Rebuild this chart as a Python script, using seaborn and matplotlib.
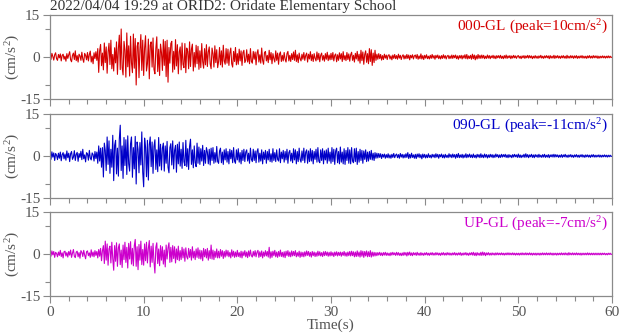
import numpy as np
import pandas as pd
import matplotlib
matplotlib.use("Agg")
import matplotlib.pyplot as plt
import seaborn as sns

# ---------------- data (acceleration, cm/s^2, one row = 1 s, sampled every 0.1 s) ----------------
title = "2022/04/04 19:29 at ORID2: Oridate Elementary School"
channel_labels = ["000-GL (peak=10cm/s$^2$)", "090-GL (peak=-11cm/s$^2$)", "UP-GL (peak=-7cm/s$^2$)"]
x_ticks = [0, 10, 20, 30, 40, 50, 60]
y_ticks = [-15, 0, 15]

ns_acc = [
    0.4, -0.9, 1.3, 0.2, -1.1, 0.8, 1.5, -0.6, -1.2, 0.9,
    -0.3, 1.1, -1.4, 0.6, 1.0, -0.8, 0.3, -1.5, 1.2, -0.5,
    0.8, 1.9, -1.0, -1.7, 0.6, 1.4, -0.9, 2.2, -1.3, 0.5,
    -1.8, 1.0, 0.4, -1.2, 1.7, -0.7, -1.9, 1.3, 0.6, -1.0,
    1.6, -1.4, 0.9, 2.1, -1.8, 0.3, -2.4, 1.5, -0.6, 1.9,
    -1.2, 3.0, -5.5, 2.2, 4.5, -3.1, 1.4, -4.6, 5.0, -2.0,
    3.6, -5.8, 1.8, 4.9, -2.7, 6.0, -4.2, 0.9, -5.0, 3.3,
    -2.1, 5.4, -6.2, 3.0, 7.8, -4.5, 10.0, -3.8, -6.4, 5.6,
    2.4, -7.2, 8.6, -3.5, 4.0, -6.8, 7.4, -2.2, -5.6, 8.2,
    -4.0, 6.6, -10.0, 3.8, 5.2, -7.4, 2.6, 8.0, -4.8, 6.0,
    -6.6, 3.2, 7.6, -5.0, -2.4, 6.4, -7.8, 4.2, 5.4, -3.6,
    6.8, -4.4, -6.0, 3.0, 7.2, -5.2, 2.8, -6.6, 4.6, 1.6,
    -4.8, 6.2, -3.0, 5.6, -7.0, 6.0, -9.0, 3.4, -2.2, 4.8,
    5.6, -5.4, 2.0, -4.4, 6.2, -3.2, 4.4, -6.0, 1.8, 3.6,
    -4.6, 5.0, -2.6, -3.8, 4.8, -5.6, 3.2, 2.0, -4.2, 5.4,
    -3.4, 2.8, 4.6, -5.0, 1.6, -3.6, 4.2, -2.4, 3.8, -4.4,
    2.2, -3.8, 4.8, -1.6, -4.0, 3.0, -2.8, 4.4, -3.4, 1.8,
    3.6, -2.4, -4.2, 3.2, 1.2, -3.6, 4.0, -2.0, 2.6, -3.8,
    -1.6, 3.4, -2.8, 2.2, -3.6, 4.2, -1.4, -2.6, 3.0, -2.2,
    2.8, -3.0, 1.4, 3.2, -2.4, -3.6, 2.0, -1.6, 3.4, -2.8,
    1.2, -2.6, 2.8, -1.4, 2.2, -3.0, 1.6, 2.4, -2.0, -1.2,
    2.6, -1.8, 1.0, -2.4, 3.0, -1.6, -2.2, 2.0, -0.8, 1.8,
    -2.8, 1.4, 2.6, -1.8, 0.8, -2.2, 3.2, -1.2, -2.6, 1.6,
    2.0, -1.4, 0.6, -2.0, 2.4, -1.0, 1.6, -2.4, 1.2, -0.6,
    -1.8, 2.2, -1.2, 1.4, -2.6, 1.0, 1.8, -1.6, 0.6, -1.4,
    1.6, -0.8, -1.8, 1.2, 2.0, -1.4, 0.6, -1.6, 1.2, -0.9,
    1.8, -1.2, 2.4, -1.6, 0.8, -2.0, 1.4, -0.6, -1.4, 1.0,
    -0.8, 1.6, -1.2, 0.6, 1.4, -1.8, 1.0, -0.7, 1.9, -1.3,
    0.9, -1.6, 1.2, -0.5, -1.4, 1.8, -1.0, 1.3, -1.7, 0.6,
    1.4, -1.1, 0.5, -1.5, 1.2, -0.8, 1.7, -1.3, 0.7, -1.0,
    1.3, -0.9, 1.6, -1.4, 0.6, 1.1, -1.7, 0.8, -1.2, 1.5,
    -0.7, 1.2, -1.6, 1.9, -1.0, 0.5, -1.3, 1.6, -0.9, 1.1,
    -1.5, 0.8, 1.7, -1.2, 0.6, -1.8, 1.3, -0.7, 2.0, -1.4,
    1.0, -2.2, 2.4, -1.3, 1.8, -2.6, 0.9, 2.2, -1.9, 1.2,
    -2.4, 3.0, -1.6, 2.6, -3.0, 1.4, -2.0, 2.4, -1.2, 1.0,
    -0.8, 1.2, -0.6, 0.9, -1.1, 0.5, -0.9, 1.0, -0.4, 0.7,
    -0.9, 0.6, 0.8, -0.7, 0.4, -1.0, 0.7, -0.5, 0.9, -0.6,
    0.5, -0.8, 1.0, -0.4, 0.6, -0.9, 0.3, 0.8, -0.7, 0.5,
    -0.6, 0.9, -0.5, 0.7, -1.0, 0.6, -0.3, 0.8, -0.7, 0.4,
    0.7, -0.5, 0.9, -0.8, 0.4, -0.6, 1.1, -0.7, 0.5, -0.9,
    0.6, -0.4, 0.8, -0.6, 0.3, -0.7, 0.6, -0.5, 0.9, -0.4,
    0.5, -0.8, 0.6, -0.3, 0.7, -0.6, 0.4, -0.7, 0.5, -0.5,
    0.8, -0.4, 0.5, -0.7, 0.3, 0.6, -0.6, 0.4, -0.5, 0.7,
    -0.5, 0.6, -0.3, 0.7, -0.6, 0.4, -0.8, 0.5, -0.4, 0.6,
    -0.7, 0.5, -0.4, 0.8, -0.6, 0.9, -0.7, 0.4, -0.5, 0.6,
    -0.8, 1.0, -0.6, 0.7, -1.0, 0.5, -0.7, 0.9, -0.5, 0.6,
    -0.5, 0.7, -0.4, 0.6, -0.6, 0.3, -0.5, 0.7, -0.4, 0.5,
    -0.6, 0.4, -0.3, 0.6, -0.5, 0.4, -0.6, 0.5, -0.3, 0.5,
    -0.4, 0.6, -0.5, 0.3, -0.6, 0.5, -0.4, 0.7, -0.5, 0.4,
    -0.3, 0.5, -0.6, 0.4, -0.4, 0.6, -0.3, 0.4, -0.5, 0.3,
    0.5, -0.4, 0.3, -0.6, 0.4, -0.3, 0.5, -0.5, 0.4, -0.3,
    0.6, -0.4, 0.5, -0.3, 0.4, -0.6, 0.3, -0.4, 0.5, -0.4,
    0.3, -0.5, 0.4, -0.3, 0.6, -0.4, 0.3, -0.5, 0.4, -0.3,
    0.5, -0.3, 0.4, -0.6, 0.5, -0.4, 0.3, -0.4, 0.6, -0.5,
    0.4, -0.3, 0.5, -0.4, 0.3, -0.5, 0.4, -0.3, 0.5, -0.4,
    0.3, -0.5, 0.6, -0.4, 0.3, -0.4, 0.5, -0.3, 0.4, -0.5,
    0.4, -0.3, 0.5, -0.5, 0.3, -0.4, 0.4, -0.3, 0.5, -0.4,
    0.3, -0.4, 0.3, -0.5, 0.4, -0.3, 0.5, -0.4, 0.3, -0.4,
    0.5, -0.3, 0.4, -0.3, 0.4, -0.5, 0.3, -0.4, 0.3, -0.3,
    0.4, -0.3, 0.3, -0.4, 0.3, -0.3, 0.4, -0.3, 0.3, -0.2,
    0.0,
]

ew_acc = [
    0.6, -1.2, 1.5, -0.4, 1.1, -1.6, 0.9, 0.3, -1.3, 1.0,
    -0.8, 1.4, -1.7, 0.5, 1.2, -1.0, 0.7, -1.5, 1.8, -0.6,
    1.0, -2.0, 0.8, 1.6, -1.2, -0.4, 1.9, -1.6, 0.6, 1.3,
    -1.9, 0.9, -0.5, 1.7, -1.3, 2.4, -1.0, 0.4, -2.1, 1.2,
    0.8, -1.5, 2.0, -0.7, -1.4, 1.1, 0.5, -1.8, 1.6, -0.9,
    1.4, -2.6, 3.6, -1.8, 2.8, -4.0, 3.0, -7.5, 4.6, 2.0,
    -5.2, 6.8, -3.0, 5.4, -6.2, 2.4, -4.0, 7.4, -8.8, 3.8,
    5.6, -6.4, 2.8, -7.2, 6.0, 11.0, -5.2, 3.6, -8.0, 6.6,
    -3.4, 5.8, -6.6, 7.2, -2.8, -5.4, 4.4, 6.8, -7.6, 3.0,
    -4.6, 7.0, -10.0, 5.0, 2.4, -6.0, 4.8, -3.2, 8.6, -5.8,
    -11.0, 6.4, 3.2, -7.4, 5.6, -8.6, 4.0, 6.8, -3.8, 5.0,
    -6.2, 3.4, 5.8, -4.8, 2.2, -5.6, 6.6, -3.6, 4.2, -5.0,
    2.8, 4.6, -5.4, 3.6, -2.6, 5.2, -4.0, -6.0, 3.0, 4.4,
    -3.2, 5.4, -4.6, 2.0, 3.8, -5.8, 4.2, -2.8, 5.0, -3.6,
    2.4, -4.4, 4.8, -2.0, -3.4, 5.6, -3.8, 2.6, -4.8, 3.4,
    6.0, -3.0, 2.2, -4.2, 3.6, -2.4, -3.8, 4.6, -2.6, 3.2,
    -3.0, 2.6, -1.8, 3.8, -3.4, 2.0, -2.6, 3.0, 1.4, -2.8,
    2.4, -3.2, 2.8, -1.6, 3.0, -2.6, 1.2, -2.2, 3.4, -2.0,
    -2.6, 1.8, 2.8, -2.4, 1.4, -3.0, 2.2, -1.4, 2.6, -2.2,
    1.6, -2.8, 2.4, -1.0, 2.0, -2.4, 3.0, -1.8, -2.6, 2.2,
    -1.4, 2.6, -2.2, 1.2, -2.8, 2.0, -1.6, 2.4, -2.0, 1.4,
    2.2, -1.8, 1.0, -2.6, 2.8, -1.2, -2.0, 2.4, -1.6, 1.8,
    -2.4, 1.6, 2.6, -2.2, 1.0, -1.8, 2.2, -2.8, 1.4, -1.2,
    2.0, -2.6, 1.6, -1.4, 2.4, -2.0, 0.8, -2.2, 2.6, -1.6,
    1.2, -2.0, 2.2, -1.2, -1.8, 2.6, -2.4, 1.4, -1.0, 2.0,
    -2.2, 1.6, -1.4, 2.4, -2.6, 1.2, 2.0, -1.8, 1.0, -2.4,
    2.6, -1.4, 2.2, -2.8, 1.6, -2.0, 2.8, -1.2, -2.2, 1.8,
    -1.6, 2.8, -2.4, 1.4, 2.2, -2.6, 1.8, -2.0, 2.6, -1.8,
    2.0, -2.8, 1.6, -1.2, 2.4, -2.2, 3.0, -1.8, -2.4, 2.2,
    -1.6, 2.6, -2.8, 1.8, -1.4, 2.2, -2.6, 2.8, -1.8, 1.4,
    -2.6, 3.0, -2.0, 2.4, -3.0, 1.8, 2.8, -2.4, 1.6, -2.8,
    3.2, -2.2, 1.4, -2.8, 2.6, -3.0, 2.0, -1.6, 3.0, -2.6,
    2.2, -2.8, 3.0, -1.8, -2.4, 2.6, -2.0, 2.8, -3.0, 1.6,
    -2.2, 2.4, -1.6, 2.0, -2.6, 1.8, -1.2, 2.2, -2.0, 1.4,
    -1.8, 1.6, -1.2, 2.0, -1.4, 1.0, -1.6, 1.2, -0.8, 1.0,
    -0.7, 0.9, -0.5, 0.8, -0.9, 0.6, -0.4, 0.7, -0.8, 0.5,
    -0.6, 0.8, -0.7, 0.4, -0.8, 0.6, -0.5, 0.9, -0.6, 0.3,
    0.7, -0.6, 0.5, -0.8, 0.9, -0.4, 0.6, -0.7, 0.5, -0.6,
    0.8, -0.5, 1.2, -0.9, 0.6, -0.7, 1.0, -0.5, 0.4, -0.8,
    0.6, -0.9, 0.7, -0.4, 0.8, -0.6, 0.5, -1.0, 0.7, -0.5,
    0.6, -0.7, 0.4, -0.6, 0.8, -0.5, 0.3, -0.7, 0.6, -0.4,
    0.5, -0.6, 0.8, -0.4, 0.6, -0.8, 0.5, -0.3, 0.7, -0.6,
    0.4, -0.7, 0.6, -0.5, 0.3, -0.6, 0.8, -0.4, 0.5, -0.6,
    0.7, -0.4, 0.5, -0.8, 0.6, -0.5, 0.9, -0.6, 0.4, -0.5,
    0.6, -0.7, 0.4, -0.5, 0.8, -0.6, 0.5, -0.4, 0.7, -0.5,
    0.4, -0.6, 0.7, -0.5, 0.3, -0.7, 0.6, -0.4, 0.5, -0.6,
    0.8, -0.5, 0.4, -0.6, 0.7, -0.4, 0.5, -0.7, 0.4, -0.5,
    0.6, -0.4, 0.5, -0.6, 0.4, -0.5, 0.7, -0.3, 0.5, -0.6,
    0.4, -0.5, 0.6, -0.4, 0.5, -0.3, 0.6, -0.5, 0.4, -0.6,
    0.5, -0.4, 0.3, -0.6, 0.5, -0.4, 0.6, -0.3, 0.4, -0.5,
    0.7, -0.5, 0.4, -0.6, 0.3, -0.4, 0.6, -0.5, 0.8, -0.4,
    0.5, -0.6, 0.4, -0.3, 0.6, -0.5, 0.4, -0.6, 0.5, -0.3,
    0.4, -0.5, 0.6, -0.4, 0.3, -0.5, 0.5, -0.4, 0.6, -0.5,
    0.3, -0.4, 0.5, -0.6, 0.4, -0.3, 0.5, -0.4, 0.6, -0.4,
    0.5, -0.3, 0.4, -0.5, 0.3, -0.4, 0.5, -0.5, 0.4, -0.3,
    0.6, -0.4, 0.3, -0.5, 0.4, -0.3, 0.5, -0.4, 0.3, -0.5,
    0.4, -0.3, 0.5, -0.4, 0.3, -0.5, 0.4, -0.3, 0.5, -0.4,
    0.3, -0.5, 0.4, -0.3, 0.4, -0.4, 0.3, -0.5, 0.4, -0.3,
    0.5, -0.4, 0.3, -0.4, 0.3, -0.3, 0.4, -0.4, 0.3, -0.4,
    0.3, -0.3, 0.4, -0.3, 0.3, -0.4, 0.3, -0.3, 0.3, -0.2,
    0.0,
]

ud_acc = [
    0.4, -0.8, 1.1, -0.3, 0.9, -1.2, 0.6, 0.2, -1.0, 0.7,
    -0.5, 1.3, -0.9, 0.4, -1.4, 0.8, 1.0, -0.7, 0.5, -1.1,
    0.9, -0.4, 1.4, -1.2, 0.3, 1.6, -0.8, -1.3, 0.7, 1.0,
    -1.0, 0.5, -1.5, 1.2, 0.6, -0.9, 1.3, -0.4, -1.7, 0.8,
    1.1, -0.6, 0.4, -1.2, 1.5, -0.8, 0.7, -1.0, 1.2, -0.5,
    0.9, -1.4, 1.6, -0.8, 2.0, -2.4, 1.2, 3.0, -3.4, 4.6,
    -2.2, 3.6, -4.0, 1.8, 2.8, -3.2, 4.2, -1.6, -5.8, 3.0,
    -2.6, 4.0, -4.4, 2.2, 3.6, -3.8, 1.4, -4.8, 3.2, -2.0,
    4.2, -3.0, 2.4, -5.0, 3.8, -1.8, 4.4, -3.6, 2.0, -4.2,
    3.0, 5.2, -4.4, 2.6, -5.6, 3.4, -2.2, 4.6, -3.8, 1.6,
    -4.0, 3.6, -2.4, 4.2, -3.2, 2.0, 4.8, -4.6, 2.8, -3.0,
    3.8, -2.6, -6.8, 2.4, 4.0, -3.4, 1.8, -4.2, 3.0, -2.2,
    2.6, -3.6, 1.4, -4.6, 3.2, -1.8, 2.2, 4.0, -3.0, 2.4,
    -2.8, 3.0, -1.6, 2.6, -3.2, 1.8, -2.0, 2.8, -2.4, 1.2,
    -2.0, 2.4, -1.4, 1.8, -2.6, 2.2, -1.0, -1.8, 2.0, -1.2,
    1.6, -2.2, 2.6, -1.4, 1.0, -2.0, 1.8, -1.2, 2.2, -1.6,
    1.4, -1.8, 1.2, -2.4, 2.0, -1.0, 1.6, -1.4, 2.0, -2.2,
    1.2, -1.6, 3.2, -1.8, 1.4, -2.0, 1.0, -1.2, 1.8, -1.4,
    1.0, -1.4, 1.6, -0.8, 1.2, -1.6, 0.9, -1.1, 1.4, -0.7,
    1.2, -1.0, 0.6, -1.4, 1.5, -0.8, 1.0, -1.2, 0.7, -1.0,
    1.3, -0.9, 0.5, -1.2, 1.0, -1.4, 0.8, -0.6, 1.2, -1.0,
    0.7, -1.3, 1.1, -0.8, 1.4, -0.6, -1.1, 0.9, -0.7, 1.2,
    -1.0, 0.6, 1.3, -1.2, 0.8, -0.9, 1.1, -1.4, 0.7, -0.8,
    1.2, -0.7, 0.9, -1.1, 2.4, -1.5, 0.8, -1.2, 1.0, -0.6,
    1.3, -1.0, 0.7, -1.2, 0.9, -0.8, 1.4, -0.9, 0.6, -1.1,
    0.8, -1.3, 1.0, -0.6, 1.2, -0.9, 0.7, -1.0, 1.1, -0.7,
    0.9, -0.6, 1.2, -1.0, 0.5, -0.8, 1.0, -1.2, 0.7, -0.9,
    0.6, -1.0, 0.8, -0.7, 1.1, -0.5, 0.9, -0.8, 0.6, -1.1,
    0.9, -0.6, 0.7, -0.9, 0.5, -0.8, 1.0, -0.6, 0.8, -0.7,
    0.5, -0.9, 0.8, -0.6, 0.9, -0.5, 0.7, -0.8, 0.6, -0.7,
    0.8, -0.6, 0.5, -0.9, 0.7, -0.5, 0.8, -0.7, 0.6, -0.5,
    0.7, -0.8, 0.6, -0.5, 0.9, -0.7, 0.5, -0.8, 0.7, -0.6,
    0.9, -0.7, 1.0, -0.6, 0.8, -1.0, 0.7, -0.9, 1.1, -0.8,
    0.7, -1.1, 1.2, -0.8, 1.0, -1.2, 0.9, -0.7, 1.1, -1.0,
    0.8, -0.9, 1.2, -1.1, 0.7, -0.8, 0.6, -0.7, 0.5, -0.6,
    0.5, -0.4, 0.6, -0.5, 0.4, -0.6, 0.5, -0.4, 0.6, -0.5,
    0.4, -0.5, 0.3, -0.6, 0.5, -0.4, 0.6, -0.3, 0.4, -0.5,
    0.6, -0.4, 0.5, -0.5, 0.3, -0.6, 0.4, -0.5, 0.6, -0.4,
    0.5, -0.7, 0.6, -0.4, 0.7, -0.5, 0.4, -0.6, 0.5, -0.3,
    0.4, -0.5, 0.6, -0.4, 0.3, -0.5, 0.5, -0.4, 0.3, -0.5,
    0.4, -0.3, 0.5, -0.4, 0.3, -0.5, 0.4, -0.3, 0.5, -0.4,
    0.3, -0.4, 0.5, -0.3, 0.4, -0.4, 0.3, -0.5, 0.4, -0.3,
    0.5, -0.4, 0.3, -0.4, 0.5, -0.3, 0.4, -0.4, 0.3, -0.4,
    0.4, -0.3, 0.5, -0.4, 0.3, -0.4, 0.4, -0.3, 0.5, -0.5,
    0.3, -0.4, 0.4, -0.3, 0.5, -0.4, 0.3, -0.5, 0.4, -0.3,
    0.5, -0.4, 0.6, -0.5, 0.4, -0.6, 0.5, -0.4, 0.3, -0.5,
    0.6, -0.5, 0.7, -0.4, 0.5, -0.6, 0.4, -0.3, 0.5, -0.4,
    0.3, -0.4, 0.4, -0.3, 0.3, -0.4, 0.4, -0.3, 0.4, -0.3,
    0.3, -0.3, 0.4, -0.3, 0.3, -0.4, 0.3, -0.3, 0.4, -0.3,
    0.4, -0.3, 0.3, -0.3, 0.4, -0.3, 0.3, -0.4, 0.3, -0.3,
    0.3, -0.4, 0.3, -0.3, 0.4, -0.3, 0.3, -0.3, 0.4, -0.3,
    0.3, -0.3, 0.4, -0.3, 0.3, -0.4, 0.3, -0.3, 0.3, -0.4,
    0.3, -0.3, 0.3, -0.4, 0.3, -0.3, 0.4, -0.3, 0.3, -0.3,
    0.4, -0.3, 0.3, -0.3, 0.4, -0.3, 0.3, -0.4, 0.3, -0.3,
    0.3, -0.4, 0.3, -0.3, 0.3, -0.3, 0.4, -0.3, 0.3, -0.3,
    0.4, -0.3, 0.3, -0.4, 0.5, -0.3, 0.3, -0.3, 0.4, -0.3,
    0.3, -0.3, 0.4, -0.3, 0.3, -0.3, 0.3, -0.4, 0.3, -0.3,
    0.3, -0.3, 0.3, -0.3, 0.4, -0.3, 0.3, -0.3, 0.3, -0.3,
    0.3, -0.3, 0.3, -0.3, 0.3, -0.3, 0.3, -0.3, 0.3, -0.3,
    0.3, -0.2, 0.3, -0.3, 0.2, -0.3, 0.3, -0.2, 0.3, -0.2,
    0.0,
]

time_s = np.linspace(0, 60, len(ns_acc))
traces = [ns_acc, ew_acc, ud_acc]
colors = ["#d40000", "#0000c8", "#cc00cc"]

# ---------------- style ----------------
sns.set_style("ticks")
plt.rcParams["font.family"] = ["Liberation Serif", "DejaVu Serif"]
plt.rcParams["mathtext.fontset"] = "custom"
plt.rcParams["mathtext.rm"] = "Liberation Serif"
plt.rcParams["mathtext.it"] = "Liberation Serif:italic"
plt.rcParams["mathtext.default"] = "rm"
plt.rcParams["axes.unicode_minus"] = False

text_col = "#555555"
spine_col = "#8a8a8a"

fig = plt.figure(figsize=(6.2, 3.34), dpi=100)
W, H = 620.0, 334.0
left, right = 50, 612
panels = [(15, 99), (114, 198), (212, 296)]

for i, ((top, bot), y, col, lab) in enumerate(zip(panels, traces, colors, channel_labels)):
    ax = fig.add_axes([left / W, 1 - bot / H, (right - left) / W, (bot - top) / H])
    df = pd.DataFrame({"t": time_s, "a": y})
    sns.lineplot(data=df, x="t", y="a", ax=ax, color=col, linewidth=0.8, estimator=None)
    ax.set_xlim(0, 60)
    ax.set_ylim(-15, 15)
    ax.set_xticks(x_ticks)
    ax.set_xticks(np.arange(0, 61, 2), minor=True)
    ax.set_yticks(y_ticks)
    ax.set_yticks([-10, 10], minor=True)
    for s in ax.spines.values():
        s.set_visible(True)
        s.set_color(spine_col)
        s.set_linewidth(0.9)
    ax.tick_params(axis="both", which="major", direction="out", length=5, width=0.8,
                   color=spine_col, labelcolor=text_col, labelsize=11, pad=2)
    ax.tick_params(axis="both", which="minor", direction="out", length=3.5, width=0.8,
                   color=spine_col)
    ax.set_ylabel("(cm/s$^2$)", color=text_col, fontsize=11)
    ax.yaxis.set_label_coords(-0.05, 0.5)
    ax.text(0.993, 0.97, lab, transform=ax.transAxes, ha="right", va="top",
            color=col, fontsize=11)
    if i < 2:
        ax.set_xticklabels([])
        ax.set_xlabel("")
    else:
        ax.set_xlabel("Time(s)", color=text_col, fontsize=11, labelpad=0)
    if i == 0:
        ax.text(0.0, 1.02, title, transform=ax.transAxes, ha="left", va="bottom",
                color="#333333", fontsize=11)

fig.savefig("out.png", dpi=100)
